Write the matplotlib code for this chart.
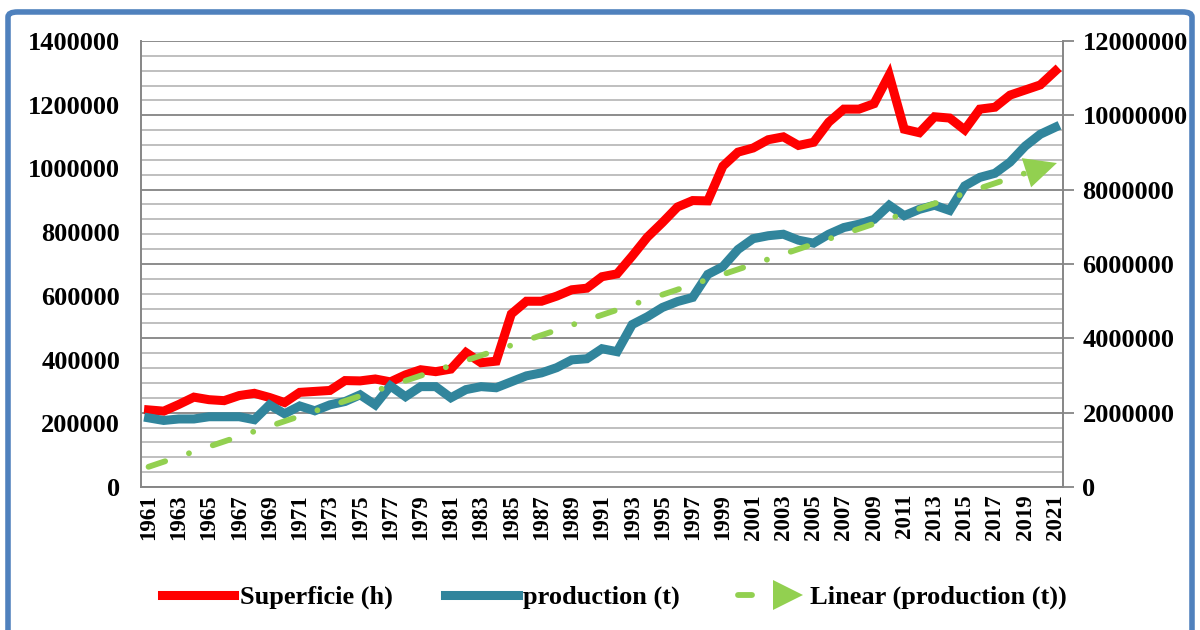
import numpy as np
import matplotlib.pyplot as plt
from matplotlib.lines import Line2D
from matplotlib.legend_handler import HandlerBase
from matplotlib.patches import FancyBboxPatch

plt.rcParams['font.family'] = ['Liberation Serif', 'DejaVu Serif']
plt.rcParams['font.weight'] = 'bold'

years = np.arange(1961, 2022)
superficie = [242000, 238000, 259000, 282000, 274000, 271000, 287000, 294000, 281000, 265000,
              297000, 300000, 303000, 334000, 333000, 339000, 330000, 352000, 368000, 362000,
              370000, 422000, 390000, 395000, 543000, 583000, 583000, 599000, 619000, 624000,
              660000, 669000, 725000, 784000, 830000, 879000, 899000, 898000, 1007000, 1051000,
              1064000, 1090000, 1099000, 1072000, 1082000, 1145000, 1186000, 1186000, 1203000, 1293000,
              1123000, 1112000, 1162000, 1158000, 1121000, 1186000, 1192000, 1230000, 1246000, 1262000,
              1306000]
production = [1860000, 1790000, 1830000, 1830000, 1890000, 1890000, 1890000, 1810000, 2210000, 1970000,
              2180000, 2050000, 2210000, 2300000, 2480000, 2210000, 2720000, 2430000, 2700000, 2700000,
              2400000, 2620000, 2700000, 2670000, 2830000, 2990000, 3070000, 3210000, 3420000, 3450000,
              3720000, 3640000, 4370000, 4580000, 4830000, 4990000, 5100000, 5720000, 5930000, 6390000,
              6680000, 6760000, 6800000, 6640000, 6560000, 6800000, 6980000, 7070000, 7200000, 7580000,
              7300000, 7470000, 7580000, 7440000, 8100000, 8330000, 8440000, 8740000, 9170000, 9490000,
              9680000]
left_ticks = np.arange(0, 1400001, 200000)
right_ticks = np.arange(0, 12000001, 2000000)
labels = ['Superficie (h)', 'production (t)', 'Linear (production (t))']

red = '#FF0000'
blue = '#31859C'
green = '#92D050'
spine_col = '#868686'

# linear trend of production
coef = np.polyfit(years, production, 1)
trend = np.polyval(coef, years)

fig = plt.figure(figsize=(12, 6.3), dpi=100)
ax = fig.add_axes([0.1175, 0.227, 0.7683, 0.708])
ax2 = ax.twinx()

# gridlines follow the secondary axis (minor every 400000, major every 2000000)
ratio = 1400000 / 12000000
for v in np.arange(0, 12000001, 400000):
    major = v % 2000000 == 0
    ax.axhline(v * ratio, color='#8C8C8C' if major else '#BFBFBF', lw=1.4, zorder=0)

ax.plot(years, superficie, color=red, lw=6.5, solid_joinstyle='miter', zorder=3)
ax2.plot(years, production, color=blue, lw=6.5, solid_joinstyle='miter', zorder=3)
ax2.plot(years[:-1], trend[:-1], color=green, lw=4.2, dashes=(3.0, 4.3, 0.01, 4.3),
         dash_capstyle='round', zorder=4)
ax2.annotate('', xy=(years[-1] + 0.1, trend[-1]), xytext=(years[-3], trend[-3]),
             arrowprops=dict(arrowstyle='-|>,head_length=1.15,head_width=0.55',
                             color=green, lw=0, mutation_scale=20, shrinkA=0, shrinkB=0),
             zorder=4)

ax.set_xlim(1960.5, 2021.5)
ax.set_ylim(0, 1400000)
ax2.set_ylim(0, 12000000)
ax.set_yticks(left_ticks)
ax.set_yticklabels([str(int(v)) for v in left_ticks])
ax2.set_yticks(right_ticks)
ax2.set_yticklabels([str(int(v)) for v in right_ticks])
ax.set_xticks(years[::2])
ax.set_xticklabels([str(y) for y in years[::2]], rotation=90)

ax.tick_params(axis='y', length=0, pad=15, labelsize=19)
ax.tick_params(axis='x', length=0, pad=5, labelsize=16.5)
ax2.tick_params(axis='y', length=8, width=1.3, color=spine_col, pad=6, labelsize=19)

for s in ['top', 'right']:
    ax.spines[s].set_visible(False)
for s in ['left', 'bottom']:
    ax.spines[s].set_color(spine_col)
    ax.spines[s].set_linewidth(1.4)
for s in ['top', 'left', 'bottom']:
    ax2.spines[s].set_visible(False)
ax2.spines['right'].set_color(spine_col)
ax2.spines['right'].set_linewidth(1.4)


class TrendHandler(HandlerBase):
    def create_artists(self, legend, orig, xd, yd, w, h, fs, trans):
        y = h / 2 - yd
        seg = Line2D([-xd + 4, -xd + 0.27 * w], [y, y], color=green, lw=4.2,
                     solid_capstyle='round', transform=trans)
        tri = Line2D([-xd + 0.76 * w], [y], marker='>', ms=22, color=green,
                     markeredgewidth=0, transform=trans)
        return [seg, tri]


trend_handle = Line2D([], [], color=green)
handles = [Line2D([], [], color=red, lw=6.5), Line2D([], [], color=blue, lw=6.5), trend_handle]
fig.legend(handles, labels, loc='center', bbox_to_anchor=(0.512, 0.052), ncol=3,
           frameon=False, fontsize=19, handlelength=2.75, handletextpad=0.2,
           columnspacing=2.0, handler_map={trend_handle: TrendHandler()})

border = FancyBboxPatch((8 / 1200, -0.1), 1184 / 1200, 1.081, transform=fig.transFigure,
                        boxstyle='round,pad=0,rounding_size=0.008', fill=False,
                        edgecolor='#4F81BD', lw=4)
fig.patches.append(border)

plt.savefig('out.png', dpi=100)
